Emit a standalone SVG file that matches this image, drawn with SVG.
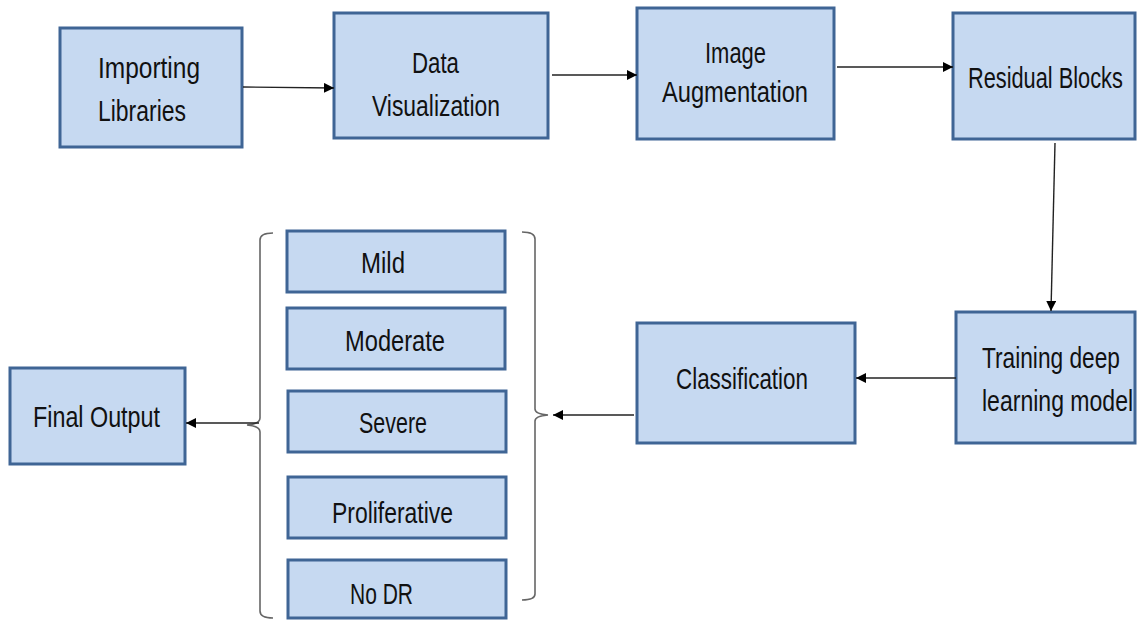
<svg xmlns="http://www.w3.org/2000/svg" width="1137" height="620" viewBox="0 0 1137 620">
  <defs>
    <marker id="arrow" viewBox="0 0 10 10" refX="10" refY="5" markerWidth="10" markerHeight="10" markerUnits="userSpaceOnUse" orient="auto">
      <path d="M0,0 L10,5 L0,10 z" fill="#000"/>
    </marker>
    <style>
      .box { fill: #c6d9f1; stroke: #3f6595; stroke-width: 3; }
      .label { font-family: "Liberation Sans", Arial, sans-serif; font-size: 30px; fill: #111; }
      .link { stroke: #222; stroke-width: 1.4; fill: none; marker-end: url(#arrow); }
      .brace { stroke: #666; stroke-width: 1.6; fill: none; }
    </style>
  </defs>

  <!-- Pipeline stages -->
  <g id="importing-libraries">
    <rect class="box" x="60" y="28" width="182" height="119"/>
    <text class="label" x="98" y="78" textLength="102" lengthAdjust="spacingAndGlyphs">Importing</text>
    <text class="label" x="98" y="121" textLength="88" lengthAdjust="spacingAndGlyphs">Libraries</text>
  </g>
  <g id="data-visualization">
    <rect class="box" x="334" y="13" width="214" height="125"/>
    <text class="label" x="412" y="73" textLength="47" lengthAdjust="spacingAndGlyphs">Data</text>
    <text class="label" x="372" y="116" textLength="128" lengthAdjust="spacingAndGlyphs">Visualization</text>
  </g>
  <g id="image-augmentation">
    <rect class="box" x="637" y="8" width="197" height="131"/>
    <text class="label" x="705" y="63" textLength="61" lengthAdjust="spacingAndGlyphs">Image</text>
    <text class="label" x="662" y="102" textLength="146" lengthAdjust="spacingAndGlyphs">Augmentation</text>
  </g>
  <g id="residual-blocks">
    <rect class="box" x="953" y="13" width="182" height="126"/>
    <text class="label" transform="translate(968,88) scale(0.73,1)" x="0" y="0" textLength="212" lengthAdjust="spacingAndGlyphs">Residual Blocks</text>
  </g>
  <g id="training-model">
    <rect class="box" x="956" y="312" width="179" height="131"/>
    <text class="label" transform="translate(982,368) scale(0.73,1)" x="0" y="0" textLength="189" lengthAdjust="spacingAndGlyphs">Training deep</text>
    <text class="label" transform="translate(982,411) scale(0.73,1)" x="0" y="0" textLength="207" lengthAdjust="spacingAndGlyphs">learning model</text>
  </g>
  <g id="classification">
    <rect class="box" x="637" y="323" width="218" height="120"/>
    <text class="label" x="676" y="389" textLength="132" lengthAdjust="spacingAndGlyphs">Classification</text>
  </g>

  <!-- Severity classes -->
  <g id="class-mild">
    <rect class="box" x="287" y="231" width="218" height="61"/>
    <text class="label" x="361" y="273" textLength="44" lengthAdjust="spacingAndGlyphs">Mild</text>
  </g>
  <g id="class-moderate">
    <rect class="box" x="287" y="308" width="218" height="61"/>
    <text class="label" x="345" y="351" textLength="100" lengthAdjust="spacingAndGlyphs">Moderate</text>
  </g>
  <g id="class-severe">
    <rect class="box" x="288" y="391" width="218" height="61"/>
    <text class="label" x="359" y="433" textLength="68" lengthAdjust="spacingAndGlyphs">Severe</text>
  </g>
  <g id="class-proliferative">
    <rect class="box" x="288" y="477" width="218" height="61"/>
    <text class="label" x="332" y="523" textLength="121" lengthAdjust="spacingAndGlyphs">Proliferative</text>
  </g>
  <g id="class-no-dr">
    <rect class="box" x="288" y="560" width="218" height="58"/>
    <text class="label" x="350" y="604" textLength="63" lengthAdjust="spacingAndGlyphs">No DR</text>
  </g>

  <g id="final-output">
    <rect class="box" x="10" y="368" width="175" height="96"/>
    <text class="label" x="33" y="427" textLength="127" lengthAdjust="spacingAndGlyphs">Final Output</text>
  </g>

  <!-- Braces grouping the classes -->
  <g id="braces">
    <path class="brace" d="M273,233 Q260,233 260,240 L260,418 Q260,424 247,425 Q260,426 260,432 L260,611 Q260,618 273,618"/>
    <path class="brace" d="M522,232 Q535,232 535,239 L535,409 Q535,414 548,415 Q535,416 535,421 L535,594 Q535,600 522,600"/>
  </g>

  <!-- Connectors -->
  <g id="connectors">
    <line class="link" x1="243" y1="87" x2="334" y2="88"/>
    <line class="link" x1="552" y1="75" x2="637" y2="75"/>
    <line class="link" x1="837" y1="67" x2="953" y2="67"/>
    <line class="link" x1="1055" y1="143" x2="1051" y2="311"/>
    <line class="link" x1="956" y1="378" x2="856" y2="378"/>
    <line class="link" x1="634" y1="415" x2="553" y2="415"/>
    <line class="link" x1="259" y1="423" x2="186" y2="423"/>
  </g>
</svg>
